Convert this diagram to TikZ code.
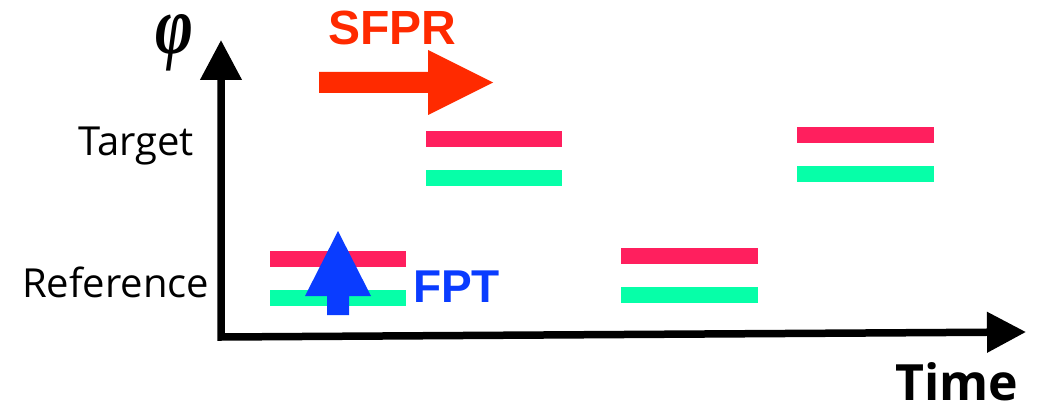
\documentclass[tikz,border=0pt]{standalone}
\usepackage{fontspec}
\usetikzlibrary{arrows.meta}
\newfontfamily\osans{Open Sans}
\newfontfamily\arialf{Liberation Sans}
\newfontfamily\libserif{Liberation Serif}
\definecolor{barred}{HTML}{FF1F5E}
\definecolor{bargreen}{HTML}{06FFA8}
\definecolor{sfprred}{HTML}{FF2A00}
\definecolor{fptblue}{HTML}{0A3CFF}
\tikzset{
  lbl/.style={inner sep=0pt, anchor=base west, font=\osans\fontsize{40}{40}\selectfont},
  redbar/.style={fill=barred},
  greenbar/.style={fill=bargreen},
}
\begin{document}
\begin{tikzpicture}[x=1pt,y=-1pt]
\useasboundingbox (0,0) rectangle (1043,409);
% axes
\draw[line width=7.5pt, line join=miter,
  {Triangle[width=40pt,length=40pt]}-{Triangle[width=39pt,length=39pt]}]
  (221,40) -- (221,337) -- (1026,332);
% bars
\fill[redbar]   (270,251) rectangle (406,267);
\fill[greenbar] (270,290) rectangle (406,306);
\fill[redbar]   (426,131) rectangle (562,147);
\fill[greenbar] (426,170) rectangle (562,186);
\fill[redbar]   (621,248) rectangle (758,264);
\fill[greenbar] (621,287) rectangle (758,303);
\fill[redbar]   (797,127) rectangle (934,143);
\fill[greenbar] (797,166) rectangle (934,182);
% SFPR arrow
\fill[sfprred] (319,72) -- (428,72) -- (428,50) -- (493,82.5) -- (428,115) -- (428,93) -- (319,93) -- cycle;
% FPT arrow
\fill[fptblue] (327,315) -- (327,296) -- (305,296) -- (338,231) -- (371,296) -- (349,296) -- (349,315) -- cycle;
% texts
\node[lbl] (target) at (78,155) {Target};
\node[lbl] (reference) at (22,297) {Reference};
\node[inner sep=0pt, anchor=base west, font=\osans\bfseries\fontsize{50}{50}\selectfont] (time) at (895,400) {Time};
\node[inner sep=0pt, anchor=base west, text=sfprred, font=\arialf\bfseries\fontsize{48}{48}\selectfont] (sfpr) at (328,45) {SFPR};
\node[inner sep=0pt, anchor=base west, text=fptblue, font=\arialf\bfseries\fontsize{46}{46}\selectfont] (fpt) at (413,302) {FPT};
\node[inner sep=0pt] (phi) at (174.5,42.5) {\resizebox{38pt}{39pt}{\libserif\bfseries\itshape φ}};
\end{tikzpicture}
\end{document}
